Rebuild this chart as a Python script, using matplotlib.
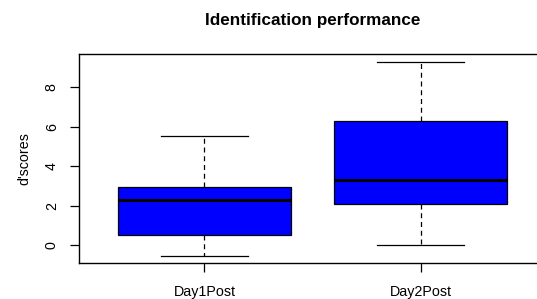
import matplotlib
matplotlib.use('Agg')
import matplotlib.pyplot as plt

plt.rcParams['font.family'] = ['Liberation Sans', 'DejaVu Sans']

# Box statistics
groups = ['Day1Post', 'Day2Post']
whislo = [-0.51, 0.0]
q1 = [0.51, 2.10]
med = [2.31, 3.29]
q3 = [2.94, 6.31]
whishi = [5.52, 9.30]

stats = []
for i, g in enumerate(groups):
    stats.append(dict(label=g, whislo=whislo[i], q1=q1[i], med=med[i],
                      q3=q3[i], whishi=whishi[i], fliers=[]))

fig = plt.figure(figsize=(5.37, 2.99), dpi=100)
ax = fig.add_axes([79/537, (299-263.3)/299, (546-79)/537, (263.3-54)/299])

ax.bxp(stats, positions=[1, 2], widths=0.8, patch_artist=True,
       showfliers=False,
       boxprops=dict(facecolor='#0000FF', edgecolor='black', linewidth=0.9),
       medianprops=dict(color='black', linewidth=2.2),
       whiskerprops=dict(color='black', linewidth=0.9, linestyle=(0, (4, 3))),
       capprops=dict(color='black', linewidth=0.9), capwidths=0.4)

# R-like range padding
ymin, ymax = min(whislo), max(whishi)
pad = 0.04*(ymax-ymin)
ax.set_ylim(ymin-pad, ymax+pad)
ax.set_xlim(0.5-0.08, 2.5+0.08)

ax.set_yticks([0, 2, 4, 6, 8])
ax.set_yticklabels(['0', '2', '4', '6', '8'], rotation=90, va='center')
ax.set_xticks([1, 2])
ax.set_xticklabels(groups)
ax.tick_params(axis='both', labelsize=10.3, length=6.5, width=0.9, color='black')
ax.tick_params(axis='y', pad=8)
ax.tick_params(axis='x', pad=9)

for s in ax.spines.values():
    s.set_linewidth(1.0)

ax.set_ylabel("d'scores", fontsize=10.3)
ax.yaxis.set_label_coords((31-79)/467, 0.5)
fig.text(312.5/537, 1-20/299, 'Identification performance', ha='center',
         va='center', fontsize=12.3, fontweight='bold')

fig.savefig('out.png', dpi=100)
